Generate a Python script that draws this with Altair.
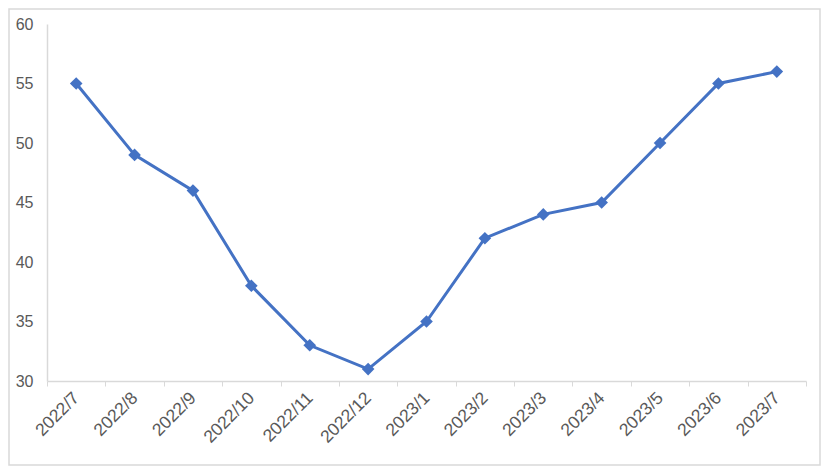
import altair as alt
import pandas as pd

months = ["2022/7", "2022/8", "2022/9", "2022/10", "2022/11", "2022/12",
          "2023/1", "2023/2", "2023/3", "2023/4", "2023/5", "2023/6", "2023/7"]
values = [55, 49, 46, 38, 33, 31, 35, 42, 44, 45, 50, 55, 56]

df = pd.DataFrame({"month": months, "value": values})

W, H = 759, 357
PAD_L, PAD_T, PAD_R, PAD_B = 39, 16, 15, 85

x = alt.X("month:N", sort=months, title=None,
          scale=alt.Scale(paddingInner=0, paddingOuter=0),
          axis=alt.Axis(labelAngle=-45, labelAlign="right", labelBaseline="middle",
                        labelPadding=9, tickBand="extent", tickSize=5,
                        tickColor="#D9D9D9", domainColor="#D9D9D9", domainWidth=1.5,
                        labelColor="#595959", labelFontSize=17.5,
                        labelFont="Liberation Sans"))
y = alt.Y("value:Q", title=None,
          scale=alt.Scale(domain=[30, 60], nice=False, zero=False),
          axis=alt.Axis(values=[30, 35, 40, 45, 50, 55, 60], ticks=False, grid=False,
                        domainColor="#D9D9D9", domainWidth=1.5, labelPadding=14,
                        labelColor="#595959", labelFontSize=16,
                        labelFont="Liberation Sans"))

base = alt.Chart(df)
line = base.mark_line(color="#4472C4", strokeWidth=3).encode(x=x, y=y)
pts = base.mark_point(shape="diamond", filled=True, size=160, color="#4472C4",
                      opacity=1).encode(x=x, y=y)

border = alt.Chart(pd.DataFrame({"a": [0]})).mark_rect(
    fill=None, stroke="#D9D9D9", strokeWidth=1.5, clip=False).encode(
    x=alt.value(-PAD_L + 1), x2=alt.value(W + PAD_R - 1),
    y=alt.value(-PAD_T + 1), y2=alt.value(H + PAD_B - 1))

chart = alt.layer(border, line, pts).properties(
    width=W, height=H,
    background="white",
    autosize=alt.AutoSizeParams(type="none"),
    padding={"left": PAD_L, "top": PAD_T, "right": PAD_R, "bottom": PAD_B},
).configure_view(strokeWidth=0, stroke="transparent")

chart.save("out.html", embed_options={"renderer": "svg", "actions": False})
